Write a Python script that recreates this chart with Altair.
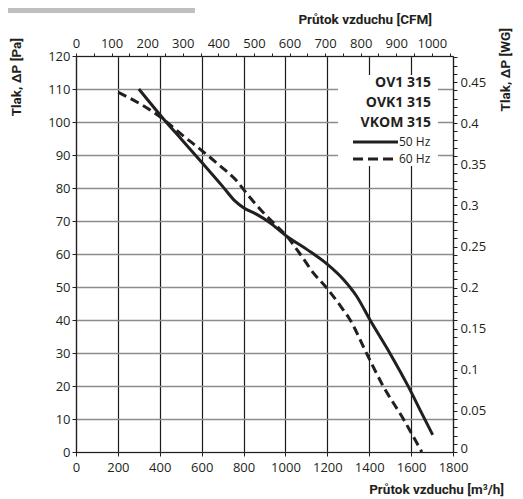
import altair as alt
import pandas as pd

# ---- data ----
solid_q = [300, 425, 500, 600, 700, 760, 800, 863, 926, 1006, 1102, 1202, 1277, 1340, 1404, 1500, 1587, 1651, 1703]
solid_p = [110, 100.4, 95, 87.8, 80.5, 76, 74, 72, 69.5, 65.4, 61.4, 56.8, 52.3, 47.2, 40, 29.8, 19.8, 11.7, 5.2]

dash_q = [202, 306, 369, 425, 512, 592, 688, 759, 831, 895, 958, 1006, 1070, 1133, 1197, 1269, 1309, 1388, 1468, 1563, 1651]
dash_p = [109, 105.5, 103, 100.4, 95.8, 91.8, 86.7, 82.7, 77.1, 72.5, 68.5, 65.4, 60, 54.3, 49.7, 43.7, 40, 29.8, 19.8, 10, 0]

x_ticks = list(range(0, 1801, 200))
y_ticks = list(range(0, 121, 10))
cfm_ticks = list(range(0, 1051, 50))
wg_ticks = [round(i * 0.01, 2) for i in range(0, 49)]

models = ["OV1 315", "OVK1 315", "VKOM 315"]
series_names = ["50 Hz", "60 Hz"]

PA_PER_WG = 249.089
M3H_PER_CFM = 1.69901

INK = "#231f20"
LBL_FONT = "Open Sans"
TTL_FONT = "Roboto"

solid = pd.DataFrame({"q": solid_q, "p": solid_p})
dashed = pd.DataFrame({"q": dash_q, "p": dash_p})

xscale = alt.Scale(domain=[0, 1800], nice=False, zero=False)
yscale = alt.Scale(domain=[0, 120], nice=False, zero=False)

common_axis = dict(
    title=None, domainColor=INK, domainWidth=1.2, tickColor=INK, tickWidth=1,
    labelFont=LBL_FONT, labelFontSize=13, labelColor=INK, labelFlush=False,
    labelOverlap=False,
)

xaxis = alt.Axis(values=x_ticks, orient="bottom", grid=True, gridColor="#1a1a1a",
                 gridWidth=1.2, tickSize=4, labelPadding=5, format="d", **common_axis)
yaxis = alt.Axis(values=y_ticks, orient="left", grid=True, gridColor="#8c8c8c",
                 gridWidth=1.3, tickSize=4, labelPadding=2, format="d", **common_axis)

X = alt.X("q:Q", scale=xscale, axis=xaxis)
Y = alt.Y("p:Q", scale=yscale, axis=yaxis)

line_solid = alt.Chart(solid).mark_line(
    color=INK, strokeWidth=3, interpolate="monotone"
).encode(x=X, y=Y)

line_dash = alt.Chart(dashed).mark_line(
    color=INK, strokeWidth=3, interpolate="monotone", strokeDash=[9, 5]
).encode(x=X, y=Y)

one = alt.Data(values=[{}])

# white background behind the legend block
legend_bg = alt.Chart(one).mark_rect(color="white").encode(
    x=alt.value(262), x2=alt.value(362), y=alt.value(19), y2=alt.value(110)
)

# gray bar at top-left
top_bar = alt.Chart(one).mark_rect(color="#bfbfbf").encode(
    x=alt.value(-68), x2=alt.value(119), y=alt.value(-48), y2=alt.value(-43)
)

def txt(s, x, y, **kw):
    return alt.Chart(one).mark_text(**kw).encode(
        x=alt.value(x), y=alt.value(y), text=alt.value(s)
    )

legend_texts = [
    txt(m, 355, yy, align="right", baseline="middle", font=LBL_FONT,
        fontWeight="bold", fontSize=14, color=INK)
    for m, yy in zip(models, [27, 47, 67])
]

leg_solid = alt.Chart(one).mark_rule(color=INK, strokeWidth=3).encode(
    x=alt.value(277), x2=alt.value(322), y=alt.value(86)
)
leg_dash = alt.Chart(one).mark_rule(color=INK, strokeWidth=3, strokeDash=[10, 5]).encode(
    x=alt.value(277), x2=alt.value(322), y=alt.value(103)
)
leg_t1 = txt(series_names[0], 323, 86, align="left", baseline="middle",
             font=LBL_FONT, fontSize=12, color=INK)
leg_t2 = txt(series_names[1], 323, 103, align="left", baseline="middle",
             font=LBL_FONT, fontSize=12, color=INK)

title_kw = dict(font=TTL_FONT, fontWeight="bold", fontSize=13.5, color=INK)
t_top = txt("Průtok vzduchu [CFM]", 356, -36, align="right", baseline="middle", **title_kw)
t_bottom = txt("Průtok vzduchu [m³/h]", 428, 434, align="right", baseline="middle", **title_kw)
t_left = txt("Tlak, ΔP [Pa]", -59, -18, align="right", baseline="middle", angle=270, **title_kw)
t_right = txt("Tlak, ΔP [WG]", 430, -28, align="right", baseline="middle", angle=270, **title_kw)

inner = alt.layer(
    line_solid, line_dash, legend_bg, *legend_texts, leg_solid, leg_dash,
    leg_t1, leg_t2, top_bar, t_top, t_bottom, t_left, t_right
)

# secondary axes (CFM on top, WG on right)
sec = pd.DataFrame({"cfm": [0, 1800 / M3H_PER_CFM], "wg": [0, 120 / PA_PER_WG]})
cfm_axis = alt.Axis(
    values=cfm_ticks, orient="top", grid=False, tickSize=3, labelPadding=3,
    format="d",
    labelExpr="datum.value % 100 == 0 && datum.value <= 1000 ? datum.label : ''",
    **common_axis)
wg_axis = alt.Axis(
    values=wg_ticks, orient="right", grid=False, tickSize=4, labelPadding=3,
    format=".2~f",
    labelExpr="abs(datum.value * 20 - round(datum.value * 20)) < 0.0001 ? datum.label : ''",
    labelOffset={"condition": {"test": "datum.value == 0", "value": -4}, "value": 0},
    **common_axis)

sec_layer = alt.Chart(sec).mark_point(opacity=0).encode(
    x=alt.X("cfm:Q", scale=alt.Scale(domain=[0, 1800 / M3H_PER_CFM], nice=False, zero=False), axis=cfm_axis),
    y=alt.Y("wg:Q", scale=alt.Scale(domain=[0, 120 / PA_PER_WG], nice=False, zero=False), axis=wg_axis),
)

chart = alt.layer(inner, sec_layer).resolve_scale(
    x="independent", y="independent"
).properties(
    width=377, height=396,
    autosize=alt.AutoSizeParams(type="none"),
    padding={"left": 68, "top": 48, "right": 62, "bottom": 47},
).configure_view(stroke=None).configure(background="white")

chart.save("out.html", embed_options={"renderer": "svg", "actions": False})
